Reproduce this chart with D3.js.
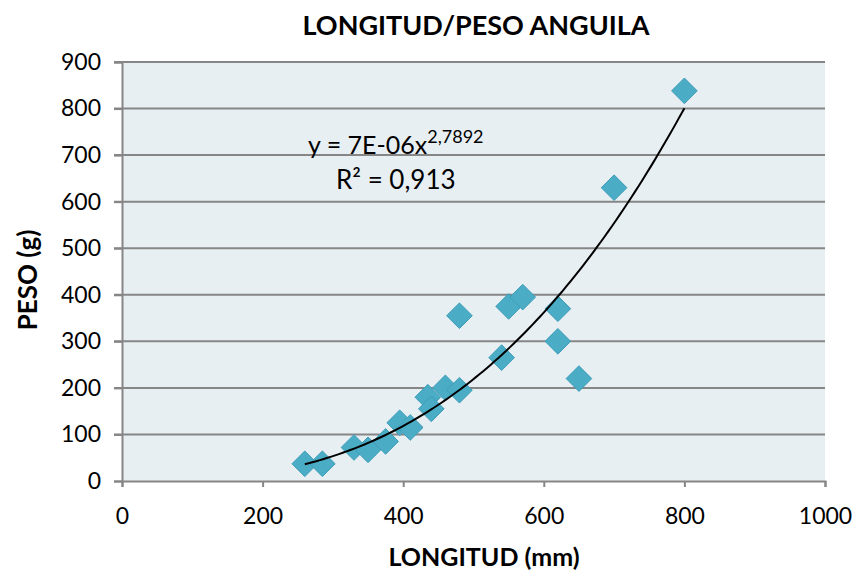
<!DOCTYPE html>
<html>
<head>
<meta charset="utf-8">
<script src="https://cdn.jsdelivr.net/npm/d3@7"></script>
<style>
  body { margin: 0; background: #fff; }
  svg text { font-family: Lato, "Open Sans", sans-serif; fill: #000; }
</style>
</head>
<body>
<svg id="chart" width="854" height="577"></svg>
<script>
// longitud (mm) / peso (g)
var longitud = [260, 285, 330, 350, 375, 395, 410, 435, 440, 460, 480, 480, 540, 550, 570, 620, 620, 650, 700, 800];
var peso     = [ 37,  37,  72,  67,  85, 125, 115, 180, 155, 200, 195, 355, 265, 375, 395, 370, 300, 220, 630, 838];
var xTicks = [0, 200, 400, 600, 800, 1000];
var yTicks = [0, 100, 200, 300, 400, 500, 600, 700, 800, 900];

var W = 854, H = 577;
var m = { left: 122, right: 29, top: 62, bottom: 96 };
var svg = d3.select('#chart');

var x = d3.scaleLinear().domain([0, 1000]).range([m.left, W - m.right]);
var y = d3.scaleLinear().domain([0, 900]).range([H - m.bottom, m.top]);

// plot bg
svg.append('rect').attr('x', x(0)).attr('y', y(900))
  .attr('width', x(1000) - x(0)).attr('height', y(0) - y(900))
  .attr('fill', '#e8eff3');

// gridlines
svg.append('g').selectAll('line').data(yTicks.slice(1)).enter().append('line')
  .attr('x1', x(0) - 8).attr('x2', x(1000))
  .attr('y1', function(d) { return y(d); }).attr('y2', function(d) { return y(d); })
  .attr('stroke', '#868686').attr('stroke-width', 2);

// axes
var yAxis = svg.append('g').attr('transform', 'translate(' + x(0) + ',0)')
  .call(d3.axisLeft(y).tickValues(yTicks).tickSize(8).tickPadding(13).tickFormat(d3.format('d')));
var xAxis = svg.append('g').attr('transform', 'translate(0,' + y(0) + ')')
  .call(d3.axisBottom(x).tickValues(xTicks).tickSize(6).tickPadding(21).tickFormat(d3.format('d')));
[yAxis, xAxis].forEach(function(a) {
  a.select('.domain').attr('stroke', '#868686').attr('stroke-width', 2);
  a.selectAll('.tick line').attr('stroke', '#868686').attr('stroke-width', 2);
  a.selectAll('.tick text').attr('font-size', 23).style('font-family', 'Lato, sans-serif');
});

// power trendline, least squares in log-log space
var lx = longitud.map(Math.log), ly = peso.map(Math.log);
var mx = d3.mean(lx), my = d3.mean(ly);
var b = d3.sum(lx, function(v, i) { return (v - mx) * (ly[i] - my); }) / d3.sum(lx, function(v) { return (v - mx) * (v - mx); });
var a = Math.exp(my - b * mx);
var xmin = d3.min(longitud), xmax = d3.max(longitud);
var trend = d3.range(0, 101).map(function(i) { var xv = xmin + (xmax - xmin) * i / 100; return [xv, a * Math.pow(xv, b)]; });

// markers
var sym = d3.symbol().type(d3.symbolDiamond2).size(420);
svg.append('g').selectAll('path').data(longitud).enter().append('path')
  .attr('d', sym)
  .attr('transform', function(d, i) { return 'translate(' + x(d) + ',' + y(peso[i]) + ')'; })
  .attr('fill', '#4bacc6').attr('stroke', '#3f9db8').attr('stroke-width', 1);

svg.append('path').datum(trend)
  .attr('d', d3.line().x(function(d) { return x(d[0]); }).y(function(d) { return y(d[1]); }))
  .attr('fill', 'none').attr('stroke', '#000').attr('stroke-width', 2);

// equation
var eq = svg.append('text').attr('x', 308).attr('y', 154).attr('font-size', 25);
eq.append('tspan').text('y = 7E-06x');
eq.append('tspan').attr('dy', -11).attr('font-size', 18).text('2,7892');
svg.append('text').attr('x', 336).attr('y', 189).attr('font-size', 26).text('R² = 0,913');

// titles
svg.append('text').attr('x', 476).attr('y', 35).attr('text-anchor', 'middle')
  .attr('font-size', 27).attr('font-weight', 'bold').text('LONGITUD/PESO ANGUILA');
svg.append('text').attr('x', 484).attr('y', 566).attr('text-anchor', 'middle')
  .attr('font-size', 25).attr('font-weight', 'bold').text('LONGITUD (mm)');
svg.append('text').attr('transform', 'translate(37,280) rotate(-90)').attr('text-anchor', 'middle')
  .attr('font-size', 26).attr('font-weight', 'bold').text('PESO (g)');
</script>
</body>
</html>
